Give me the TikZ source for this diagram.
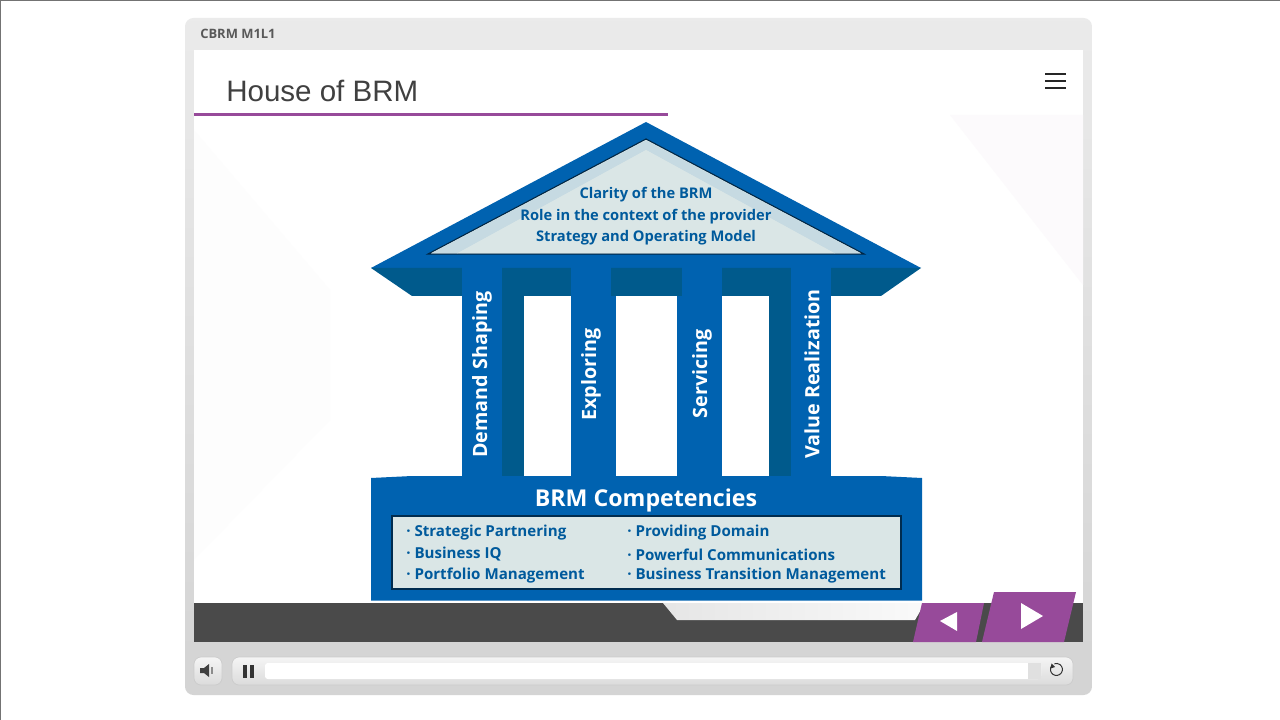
\documentclass[tikz,border=0pt]{standalone}
\usepackage{fontspec}
\setmainfont{Open Sans}
\newfontfamily\titlefont{Liberation Sans}
\definecolor{houseblue}{HTML}{0062B0}
\definecolor{housedark}{HTML}{005A8C}
\definecolor{housepale}{HTML}{DAE6E6}
\definecolor{houseband}{HTML}{C6DAE2}
\definecolor{houseink}{HTML}{005A9C}
\definecolor{plum}{HTML}{974A9A}
\definecolor{barcol}{HTML}{4A4A4A}
\begin{document}
\begin{tikzpicture}[x=0.025cm,y=-0.025cm,
  roofline/.style={font=\bfseries\fontsize{10.45}{13}\selectfont,text=houseink,inner sep=0pt},
  pillarlabel/.style={font=\bfseries\fontsize{14}{16}\selectfont,text=white,rotate=90,inner sep=0pt},
  listline/.style={font=\bfseries\fontsize{10.75}{13}\selectfont,text=houseink,anchor=west,inner sep=0pt},
  ctrlbox/.style={draw=black!20,rounded corners=5pt,top color=black!4,bottom color=black!14,line width=0.5pt}]
\useasboundingbox (0,0) rectangle (1280,720);
\fill[white] (0,0) rectangle (1280,720);
\path[draw=black!55,line width=0.7pt] (0,720) -- (0,0) -- (1280,0);

% player frame
\path[draw=none,top color=black!8,bottom color=black!17,rounded corners=6pt] (185,18) rectangle (1092,695);
\fill[white] (194,50) rectangle (1083,603);
\node[font=\bfseries\fontsize{9.2}{11}\selectfont,text=black!65,anchor=west,inner sep=0pt] (course) at (200,33.5) {CBRM M1L1};

% faint slide background
\fill[plum!3] (950,115) -- (1083,115) -- (1083,285) -- cycle;
\fill[black!0.8] (194,130) -- (330,290) -- (330,420) -- (194,560) -- cycle;

% slide title
\node[font=\titlefont\fontsize{21}{25}\selectfont,text=black!75,anchor=west,inner sep=0pt] (title) at (226,91) {House of BRM};
\path[draw=plum,line width=2.1pt] (194,114.5) -- (668,114.5);
\foreach \y in {74,81,88}
  \path[draw=black!85,line width=1.1pt] (1045,\y) -- (1066,\y);

% bottom bar
\fill[barcol] (194,603) rectangle (1083,641.5);
\path[draw=none,left color=black!10,right color=black!2] (663,603) -- (925,603) -- (915,620) -- (677,620) -- cycle;
\fill[plum] (922,603) -- (984,603) -- (976,642) -- (913,642) -- cycle;
\fill[plum] (994,592) -- (1076,592) -- (1064,642) -- (982,642) -- cycle;
\fill[white] (940,621) -- (957,612) -- (957,631) -- cycle;
\fill[white] (1043,616) -- (1021,603) -- (1021,629) -- cycle;

% house
\fill[houseblue] (646,122) -- (921,268) -- (371,268) -- cycle;
\fill[housedark] (371,268) -- (921,268) -- (881,296) -- (412,296) -- cycle;
\fill[housedark] (502,268) rectangle (791,476);
\fill[white] (524,296) rectangle (571,476);
\fill[houseblue] (611,296) rectangle (682,476);
\fill[white] (616,296) rectangle (677,476);
\fill[white] (722,296) rectangle (769,476);
\foreach \x in {462,571,682,791}
  \fill[houseblue] (\x,262) rectangle (\x+40,480);
\fill[houseblue] (371,478) -- (412,476) -- (881,476) -- (922,478) -- (922,600.5) -- (371,600.5) -- cycle;

% roof panel
\path[draw=black!60!houseblue,line width=0.8pt,fill=housepale] (646,139) -- (864,254) -- (428,254) -- cycle;
\fill[houseband] (646,140.5) -- (861,253.5) -- (835,253.5) -- (646,150) -- (457,253.5) -- (431,253.5) -- cycle;
\fill[housepale] (646,150) -- (835,253.5) -- (457,253.5) -- cycle;
\node[roofline] (clarity) at (646,195) {Clarity of the BRM};
\node[roofline] (role) at (646,217) {Role in the context of the provider};
\node[roofline] (strategy) at (646,238) {Strategy and Operating Model};

% pillars
\node[pillarlabel] (demand) at (482,374.5) {Demand Shaping};
\node[pillarlabel] (exploring) at (591,374.5) {Exploring};
\node[pillarlabel] (servicing) at (702,374) {Servicing};
\node[pillarlabel] (value) at (812,374) {Value Realization};

% base
\node[font=\bfseries\fontsize{16.5}{19}\selectfont,text=white,inner sep=0pt] (base) at (646,500.5) {BRM Competencies};
\path[draw=black!55!houseblue,line width=0.8pt,fill=housepale] (392,516) rectangle (901,589);
\node[listline] (partner) at (406,533) {· Strategic Partnering};
\node[listline] (iq) at (406,554) {· Business IQ};
\node[listline] (portfolio) at (406,576) {· Portfolio Management};
\node[listline] (domain) at (627,533) {· Providing Domain};
\node[listline] (comms) at (627,555) {· Powerful Communications};
\node[listline] (transition) at (627,576) {· Business Transition Management};

% player controls
\path[ctrlbox] (194,657) rectangle (222,685);
\path[ctrlbox] (232,657) rectangle (1073,685);
\path[fill=white,rounded corners=2pt] (265,663) rectangle (1041,679);
\fill[black!12] (1028,663) rectangle (1041,679);
\fill[black!75] (200,668) -- (204,668) -- (209,664) -- (209,677) -- (204,673) -- (200,673) -- cycle;
\fill[black!45] (211,667) rectangle (213,674);
\fill[black!80] (243,665) rectangle (247,678);
\fill[black!80] (250,665) rectangle (254,678);
\path[draw=black!80,line width=0.7pt] (1051.5,666) arc[start angle=215,end angle=-110,radius=6];
\fill[black!80] (1051.5,663.5) -- (1055,667) -- (1050.5,668.5) -- cycle;
\end{tikzpicture}
\end{document}
